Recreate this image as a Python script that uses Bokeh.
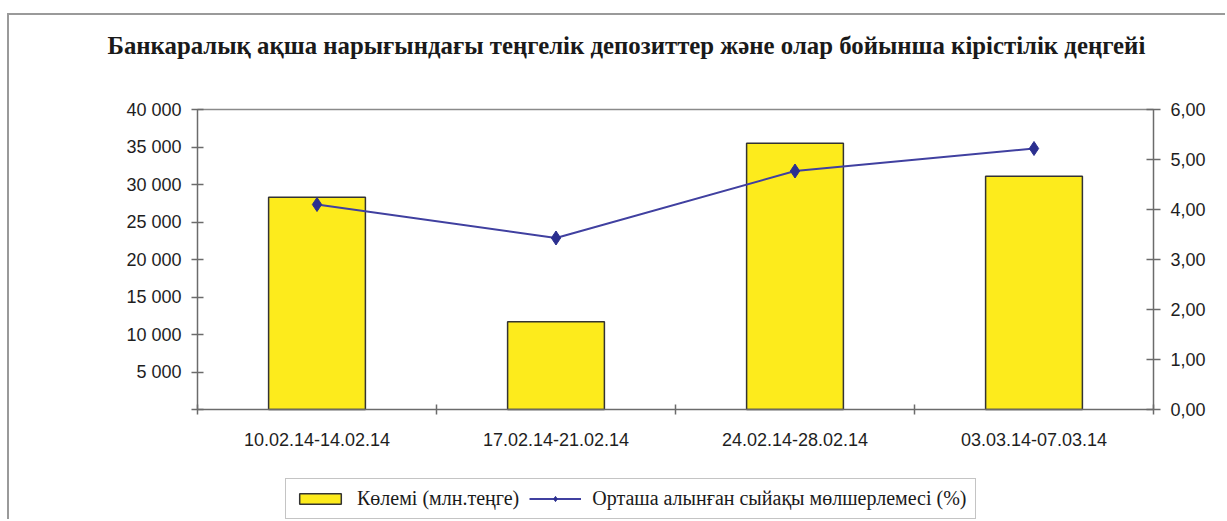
import numpy as np
from bokeh.plotting import figure
from bokeh.models import Range1d, LinearAxis, FixedTicker, Legend, LegendItem, Label
from bokeh.embed import file_html
from bokeh.resources import INLINE

# ---- data ----
categories = ["10.02.14-14.02.14", "17.02.14-21.02.14", "24.02.14-28.02.14", "03.03.14-07.03.14"]
volume = [28300, 11700, 35500, 31100]          # Көлемі (млн.теңге)
rate = [4.10, 3.43, 4.77, 5.22]                # Орташа алынған сыйақы мөлшерлемесі (%)
left_ticks = [0, 5000, 10000, 15000, 20000, 25000, 30000, 35000, 40000]
left_tick_labels = ["", "5 000", "10 000", "15 000", "20 000", "25 000", "30 000", "35 000", "40 000"]
right_ticks = [0, 1, 2, 3, 4, 5, 6]
right_tick_labels = ["0,00", "1,00", "2,00", "3,00", "4,00", "5,00", "6,00"]
title_text = "Банкаралық ақша нарығындағы теңгелік депозиттер  және олар бойынша кірістілік деңгейі"
legend_labels = ["Көлемі (млн.теңге)", "Орташа алынған сыйақы мөлшерлемесі (%)"]

n = len(categories)
x_centers = list(np.arange(n) + 0.5)
x_bounds = list(range(n + 1))
left_max, right_max = left_ticks[-1], right_ticks[-1]

# ---- layout (pixels inside the figure) ----
AX = "#6b6b6b"
W, H = 1218, 506
PL, PR = 188, 1144      # plot-area left / right edge
PT, PZ = 94, 394        # plot-area top / zero line
cat_px = (PR - PL) / n
val_px = PZ - PT

x_range = Range1d(-PL / cat_px, n + (W - PR) / cat_px)
y_range = Range1d(-left_max * (H - PZ) / val_px, left_max * (1 + PT / val_px))

p = figure(width=W, height=H, x_range=x_range, y_range=y_range, title=None,
           output_backend="svg", toolbar_location=None,
           min_border=0, min_border_left=0, min_border_right=0,
           min_border_top=0, min_border_bottom=0)
p.styles = {"border-top": "2px solid #9a9a9a", "border-left": "2px solid #9a9a9a",
            "margin-top": "13px", "margin-left": "7px"}
p.xgrid.visible = False
p.ygrid.visible = False
p.outline_line_color = None
p.background_fill_color = "white"
p.border_fill_color = "white"

# title
p.add_layout(Label(x=98, y=H - 30, x_units="screen", y_units="screen", text=title_text,
                   text_font="Liberation Serif", text_font_style="bold",
                   text_font_size="24.8px", text_color="#1a1a1a",
                   text_align="left", text_baseline="middle"))

# plot-area top border
p.segment(x0=[0], y0=[left_max], x1=[n], y1=[left_max], line_color="#8a8a8a", line_width=1.5)

# bars
bars = p.vbar(x=x_centers, top=volume, bottom=0, width=0.405,
              fill_color="#FDEB1C", line_color="#333333", line_width=1.5)

# line on right axis
p.extra_y_ranges = {"r": Range1d(-right_max * (H - PZ) / val_px, right_max * (1 + PT / val_px))}
ln = p.line(x_centers, rate, y_range_name="r", line_color="#4040A0", line_width=2)
pts = p.scatter(x_centers, rate, y_range_name="r", marker="diamond", size=14,
                fill_color="#2B2F8F", line_color="#2B2F8F")

def style_axis(ax):
    ax.axis_line_color = AX
    ax.axis_line_width = 1.5
    ax.major_tick_line_color = AX
    ax.major_tick_line_width = 1.5
    ax.minor_tick_line_color = None
    ax.major_label_text_font = "Liberation Sans"
    ax.major_label_text_font_size = "18px"
    ax.major_label_text_color = "#1e1e1e"

# left axis
ya = p.yaxis[0]
style_axis(ya)
ya.fixed_location = 0
ya.ticker = FixedTicker(ticks=left_ticks)
ya.bounds = (0, left_max)
ya.major_label_overrides = dict(zip(left_ticks, left_tick_labels))
ya.major_tick_in = 6
ya.major_tick_out = 6
ya.major_label_standoff = 10

# right axis
ra = LinearAxis(y_range_name="r", ticker=FixedTicker(ticks=right_ticks))
style_axis(ra)
ra.fixed_location = n
ra.bounds = (0, right_max)
ra.major_label_overrides = dict(zip(right_ticks, right_tick_labels))
ra.major_tick_in = 7
ra.major_tick_out = 7
ra.major_label_standoff = 10
p.add_layout(ra, "right")

# x axis at zero
xa = p.xaxis[0]
style_axis(xa)
xa.fixed_location = 0
xa.bounds = (0, n)
xa.ticker = FixedTicker(ticks=x_centers, minor_ticks=x_bounds)
xa.major_label_overrides = dict(zip(x_centers, categories))
xa.major_tick_in = 0
xa.major_tick_out = 0
xa.minor_tick_line_color = AX
xa.minor_tick_line_width = 1.5
xa.minor_tick_in = 5
xa.minor_tick_out = 5
xa.major_label_standoff = 18

legend = Legend(items=[LegendItem(label=legend_labels[0], renderers=[bars]),
                       LegendItem(label=legend_labels[1], renderers=[ln, pts])],
                location=(276, 2), orientation="horizontal", margin=0)
legend.label_text_font = "serif"
legend.label_text_font_style = "normal"
legend.label_text_font_size = "20px"
legend.label_text_color = "#1a1a1a"
legend.label_height = 15
legend.glyph_width = 52
legend.glyph_height = 13
legend.spacing = 10
legend.label_standoff = 11
legend.padding = 8
legend.border_line_color = "#8a8a8a"
legend.border_line_width = 1.5
legend.background_fill_color = "white"
legend.background_fill_alpha = 1.0
p.add_layout(legend)

open("out.html", "w").write(file_html(p, INLINE))
